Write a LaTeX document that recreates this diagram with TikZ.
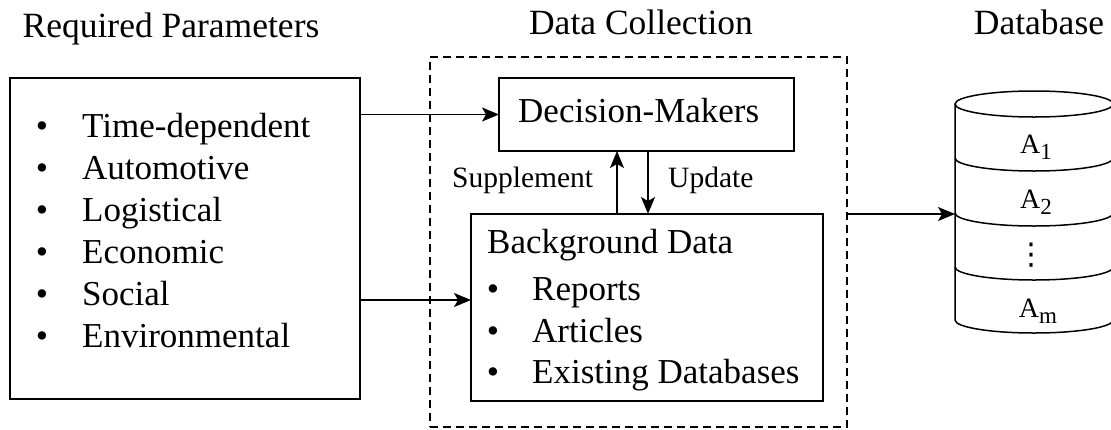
\documentclass[tikz,border=0pt]{standalone}
\usepackage{fontspec}
\setmainfont{Liberation Serif}
\newfontfamily\tnr{Liberation Serif}
\newfontfamily\djv{DejaVu Sans}
\usetikzlibrary{arrows.meta}
\begin{document}
\begin{tikzpicture}[x=1pt,y=-1pt,
  box/.style={draw, line width=1.6pt, inner sep=0pt, outer sep=0pt},
  dbox/.style={draw, line width=1.4pt, dash pattern=on 8pt off 5pt, inner sep=0pt, outer sep=0pt},
  txt/.style={inner sep=0pt, anchor=base west, font=\tnr\fontsize{35}{40}\selectfont},
  small/.style={inner sep=0pt, anchor=base west, font=\tnr\fontsize{29.5}{34}\selectfont},
  ttl/.style={inner sep=0pt, anchor=base, font=\tnr\fontsize{35.5}{40}\selectfont},
  sub/.style={inner sep=0pt, anchor=base, font=\tnr\fontsize{28}{34}\selectfont},
  cyl/.style={line width=1.5pt},
  arr/.style={line width=1.4pt, -{Stealth[length=17pt,width=14pt,inset=4pt]}}]
\useasboundingbox (0,0) rectangle (1111,429);

% titles
\node[ttl] (t1) at (171,37) {Required Parameters};
\node[ttl] (t2) at (641,34) {Data Collection};
\node[ttl] (t3) at (1039,34) {Database};

% boxes
\node[box, minimum width=350pt, minimum height=321pt] (lbox) at (185,238.5) {};
\node[dbox, minimum width=417pt, minimum height=370pt] (dc) at (638.5,242) {};
\node[box, minimum width=295pt, minimum height=73pt] (dm) at (646.5,114.5) {};
\node[box, minimum width=352pt, minimum height=187pt] (bg) at (647,307.5) {};

% left list
\foreach \t [count=\i] in {Time-dependent,Automotive,Logistical,Economic,Social,Environmental} {
  \node[txt, anchor=base] (lb\i) at (42,95+42*\i) {\textbullet};
  \node[txt] (li\i) at (82,95+42*\i) {\t};
}

% decision makers / background
\node[txt] (dmt) at (518,122) {Decision-Makers};
\node[txt] (bgt) at (487,253) {Background Data};
\foreach \t/\y [count=\i] in {Reports/300,Articles/342,Existing Databases/383} {
  \node[txt, anchor=base] (bb\i) at (493,\y) {\textbullet};
  \node[txt] (bi\i) at (532,\y) {\t};
}
\node[small] (sup) at (452,187) {Supplement};
\node[small] (upd) at (668,187) {Update};

% database cylinder
\draw[cyl] (1034,104) ellipse [x radius=79, y radius=13];
\draw[cyl] (955,104) -- (955,320) arc[start angle=180, end angle=0, x radius=79, y radius=13] -- (1113,104);
\foreach \y in {158,213,267} {
  \draw[cyl] (955,\y) arc[start angle=180, end angle=0, x radius=79, y radius=13];
}
\coordinate (cylA) at (955,214);
\node[sub] (a1) at (1036,153) {A\raisebox{-6pt}{\fontsize{23}{23}\selectfont 1}};
\node[sub] (a2) at (1036,208) {A\raisebox{-6pt}{\fontsize{23}{23}\selectfont 2}};
\node[inner sep=0pt, font=\djv\fontsize{30}{36}\selectfont] (dots) at (1031,255) {⋮};
\node[sub] (am) at (1038,317) {A\raisebox{-6pt}{\fontsize{23}{23}\selectfont m}};

% connectors
\coordinate (p1) at (lbox.east |- dm.west);
\draw[arr] (p1) -- (dm.west);
\coordinate (p2) at (360,300);
\draw[arr] (p2) -- (p2 -| bg.west);
\coordinate (s1) at (617,0);
\draw[arr] (s1 |- bg.north) -- (s1 |- dm.south);
\coordinate (u1) at (648,0);
\draw[arr] (u1 |- dm.south) -- (u1 |- bg.north);
\draw[arr] (dc.east |- cylA) -- (cylA);
\end{tikzpicture}
\end{document}
